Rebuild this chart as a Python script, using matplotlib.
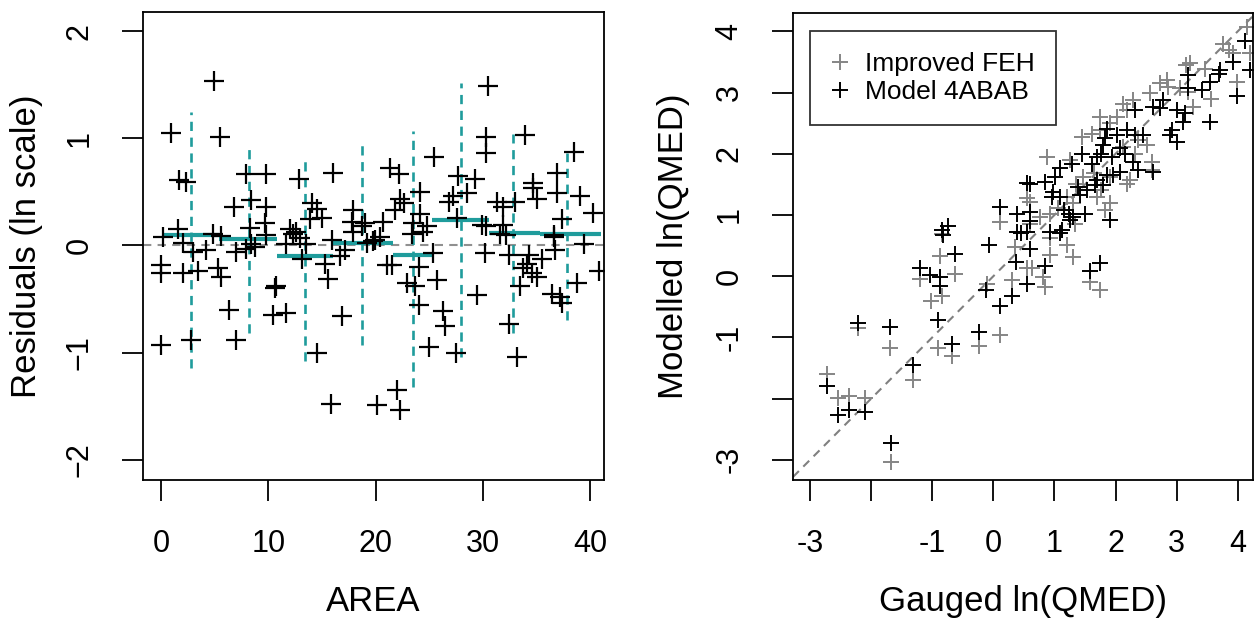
import matplotlib.pyplot as plt

plt.rcParams['font.family'] = ['Liberation Sans', 'DejaVu Sans']

# left panel: residuals against AREA
area = [0.87, 4.9, 5.45, 1.7, 2.34, 7.94, 9.75, 12.86, 16.04, 6.79, 8.35, 9.81, 14.1, 14.5, 14.95, 13.9,
        17.9, 17.76, 18.7, 1.55, 8.25, 9.66, 12.0, 12.6, 4.83, 5.6, 0.15, 9.75,
        2.03, 2.96, 4.2, 7.0, 7.94, 8.41, 8.72, 11.68, 12.3, 12.9, 13.55, 13.1, 15.9, 15.26, 16.66,
        17.13, 15.57, 17.9, 19.16, 19.78, 0.0, 0.0, 2.03, 3.42, 5.29, 5.6, 10.75, 10.6, 6.33, 10.43,
        11.68, 16.82, 0.0, 2.74, 7.0, 14.49, 15.8, 20.1,
        19.93, 23.36, 24.45, 25.39, 21.5, 21.03, 24.0, 25.7, 22.9, 23.68, 24.0, 26.26, 26.49, 25.0,
        27.5, 21.96, 22.27, 29.5, 30.2, 32.4, 32.4, 33.2, 33.5, 33.74, 34.1, 34.27, 34.6, 35.05, 35.5,
        36.45, 37.2, 37.4, 36.76, 36.6, 38.79, 39.4, 40.8, 31.6, 32.2,
        30.5, 30.3, 30.3, 33.95, 38.47, 25.45, 21.34, 22.2, 24.15, 27.72, 29.3, 22.27, 22.6, 21.8,
        19.0, 20.7, 20.4, 24.15, 23.5, 24.77, 26.8, 27.26, 28.5, 27.57, 29.9, 30.3, 31.3, 31.9, 33.0,
        34.7, 34.7, 35.05, 36.9, 36.9, 39.1, 40.3, 37.4, 36.6, 31.9]
resid = [1.05, 1.54, 1.01, 0.61, 0.59, 0.67, 0.67, 0.62, 0.68, 0.36, 0.42, 0.36, 0.40, 0.34, 0.26, 0.25,
         0.33, 0.22, 0.18, 0.15, 0.16, 0.21, 0.15, 0.13, 0.11, 0.09, 0.08, 0.10,
         0.02, -0.06, -0.04, -0.06, -0.03, 0.01, -0.01, 0.01, 0.11, 0.07, 0.01, -0.13, 0.05, -0.17, -0.10,
         -0.04, -0.31, 0.13, 0.02, 0.04, -0.18, -0.26, -0.26, -0.24, -0.21, -0.29, -0.38, -0.40, -0.60, -0.65,
         -0.63, -0.66, -0.93, -0.88, -0.88, -1.00, -1.48, -1.49,
         0.05, 0.11, 0.13, -0.07, -0.18, -0.18, -0.20, -0.32, -0.35, -0.38, -0.56, -0.61, -0.75, -0.95,
         -1.00, -1.35, -1.54, -0.46, -0.07, -0.09, -0.73, -1.04, -0.38, -0.21, -0.17, -0.09, -0.26, -0.29, -0.13,
         -0.45, -0.48, -0.54, -0.04, 0.08, -0.35, 0.01, -0.24, 0.11, 0.10,
         1.49, 1.01, 0.86, 1.03, 0.87, 0.83, 0.72, 0.67, 0.50, 0.65, 0.62, 0.43, 0.40, 0.33,
         0.21, 0.22, 0.08, 0.29, 0.21, 0.18, 0.41, 0.46, 0.49, 0.26, 0.19, 0.18, 0.41, 0.36, 0.41,
         0.58, 0.54, 0.43, 0.68, 0.49, 0.46, 0.30, 0.25, 0.10, 0.19]

# AREA bins: edges, centre, mean residual and the extent of the dashed bar
bin_lo = [0.3, 5.4, 10.8, 16.0, 21.6, 25.3, 30.6, 35.3]
bin_hi = [5.4, 10.8, 16.0, 21.6, 25.3, 30.6, 35.3, 41.0]
bin_mid = [2.8, 8.2, 13.4, 18.7, 23.5, 28.0, 32.8, 37.85]
bin_mean = [0.10, 0.06, -0.10, 0.02, -0.09, 0.24, 0.12, 0.11]
bin_low = [-1.14, -0.82, -1.08, -0.93, -1.32, -1.04, -0.82, -0.70]
bin_high = [1.25, 0.92, 0.82, 0.94, 1.07, 1.52, 1.04, 0.86]

# right panel: gauged vs modelled ln(QMED)
feh_x = [-0.87, -0.63, -1.2, -1.02, -0.84, 0.36, 0.30, -0.11, -2.21, -1.70, -0.90, -0.68, -0.23, 0.11,
         -1.31, -2.73, -2.54, -2.36, -2.10, -1.67, 0.55, 1.75, 1.58, 0.85, 0.82, 0.63, 0.93, 1.30, 1.20,
         0.93, 4.15, 4.20, 3.76, 3.85, 3.98, 3.57, 3.47, 3.22, 2.84, 2.73, 3.06, 3.19, 3.27, 2.56, 2.29,
         2.13, 1.75, 1.91, 1.45, 1.61, 2.37, 2.51, 2.13, 0.87, 2.59, 2.24, 1.64, 1.36, 1.20, 1.77, 1.91,
         1.83, 1.06, 0.93, 0.60, 0.76, 1.31, 0.55, 0.11, -0.84,
         1.75, 2.02, 1.26, 2.59, 1.91, 2.18, 1.47, 1.69, 1.34, 2.32, 2.86, 3.16, 3.93, 2.18, 0.60]
feh_y = [0.33, 0.03, -0.04, -0.40, -0.32, 0.48, -0.07, -0.12, -0.85, -1.18, -1.17, -1.31, -1.14, -0.96,
         -1.69, -1.59, -1.99, -1.96, -1.99, -3.03, 0.13, -0.22, -0.09, -0.18, -0.01, 0.13, 0.34, 0.31, 0.51,
         0.62, 4.07, 3.64, 3.80, 3.69, 3.17, 2.90, 3.39, 3.48, 3.20, 3.15, 3.07, 3.01, 2.77, 2.99, 2.88,
         2.82, 2.60, 2.50, 2.28, 2.33, 2.22, 2.14, 2.11, 1.95, 1.87, 1.57, 1.68, 1.51, 1.30, 1.41, 1.19,
         1.08, 1.11, 1.02, 1.21, 0.97, 1.19, 1.28, 0.89, 0.69,
         2.39, 2.60, 1.90, 1.73, 1.62, 1.51, 1.62, 1.30, 0.86, 2.00, 3.09, 3.45, 3.64, 2.71, 0.86]
mod_x = [-0.82, -0.63, -0.07, 0.45, -1.2, -1.04, -0.87, -0.87, 0.37, -0.12, 0.11, 0.30, 0.55, -0.90,
         -0.68, -0.23, -2.21, -1.70, -1.31, -2.73, -2.54, -2.36, -2.10, -1.67, 1.75, 1.58, 0.85, 0.60,
         1.09, 0.93, 4.12, 4.20, 3.98, 3.93, 3.71, 3.70, 3.55, 3.55, 3.41, 3.19, 3.19, 3.14, 3.11, 3.00,
         2.92, 3.00, 2.89, 2.78, 2.73, 2.62, 2.32, 2.45, 2.32, 2.18, 2.02, 2.07, 1.86, 1.83, 1.80, 1.77,
         1.69, 1.94, 2.16, 2.29, 2.37, 2.62, 2.07, 1.96, 1.86, 1.69, 1.61, 1.45, 1.28, 1.09, 1.01, 0.85,
         0.60, 1.80, 1.53, 1.39, 1.42, 1.66, 0.98, 0.96, 1.09, 1.15, 1.23, 1.31, 1.50, 1.26, 0.60, 0.60,
         1.91, 1.12, 0.55, 0.55, 0.11, 0.38, -0.74, -0.84, 0.38]
mod_y = [0.67, 0.37, 0.51, 0.71, 0.13, 0.02, -0.01, -0.16, 0.23, -0.22, -0.49, -0.33, -0.12, -0.72,
         -1.10, -0.91, -0.76, -0.83, -1.45, -1.80, -2.27, -2.19, -2.22, -2.73, 0.21, 0.09, 0.16, 0.44,
         0.70, 0.72, 3.84, 3.37, 2.94, 3.50, 3.37, 3.30, 3.17, 2.52, 3.04, 3.28, 3.08, 2.66, 2.52, 2.71,
         2.39, 2.19, 2.30, 2.88, 2.74, 2.77, 2.71, 2.30, 2.30, 2.39, 2.30, 2.09, 2.41, 2.25, 2.14, 2.00,
         1.95, 1.95, 2.00, 1.87, 1.73, 1.70, 1.70, 1.65, 1.65, 1.57, 1.84, 2.00, 1.84, 1.76, 1.62, 1.54,
         1.51, 1.49, 1.41, 1.46, 1.32, 1.49, 1.38, 1.30, 1.30, 1.08, 1.02, 0.97, 1.02, 0.92, 1.05, 0.90,
         0.92, 0.75, 0.72, 1.52, 1.13, 1.02, 0.82, 0.75, 0.73]

teal = '#1f9c9c'

fig = plt.figure(figsize=(12.56, 6.19), dpi=100)
ax1 = fig.add_axes([143/1256, 139/619, 461/1256, 468/619])
ax2 = fig.add_axes([793/1256, 139/619, 460/1256, 467/619])

# ----- left
ax1.axhline(0, color='#909090', lw=1.5, ls=(0, (4, 3)), zorder=1)
for lo, hi, mid, m, a, b in zip(bin_lo, bin_hi, bin_mid, bin_mean, bin_low, bin_high):
    ax1.plot([lo, hi], [m, m], color=teal, lw=3, solid_capstyle='butt', zorder=2)
    ax1.plot([mid, mid], [a, b], color=teal, lw=1.9, ls=(0, (3.5, 2.5)), zorder=2)
ax1.plot(area, resid, ls='none', marker='+', ms=14, mew=1.6, color='black', zorder=3)
ax1.set_xlim(-1.7, 41.3)
ax1.set_ylim(-2.19, 2.18)
ax1.set_xticks([0, 10, 20, 30, 40])
ax1.set_yticks([-2, -1, 0, 1, 2])
ax1.set_xlabel('AREA', fontsize=25)
ax1.set_ylabel('Residuals (ln scale)', fontsize=25)
ax1.xaxis.set_label_coords(0.5, -0.224)
ax1.yaxis.set_label_coords(-0.217, 0.5)

# ----- right
ax2.axline((0, 0), slope=1, color='#808080', lw=1.5, ls=(0, (4, 3)), zorder=1)
ax2.plot(feh_x, feh_y, ls='none', marker='+', ms=11, mew=1.4, color='#858585', zorder=2,
         label='Improved FEH')
ax2.plot(mod_x, mod_y, ls='none', marker='+', ms=11, mew=1.4, color='black', zorder=3,
         label='Model 4ABAB')
ax2.set_xlim(-3.28, 4.25)
ax2.set_ylim(-3.33, 4.30)
ax2.set_xticks([-3, -2, -1, 0, 1, 2, 3, 4])
ax2.set_xticklabels(['-3', '', '-1', '0', '1', '2', '3', '4'])
ax2.set_yticks([-3, -2, -1, 0, 1, 2, 3, 4])
ax2.set_yticklabels(['-3', '', '-1', '0', '1', '2', '3', '4'])
ax2.set_xlabel('Gauged ln(QMED)', fontsize=25)
ax2.set_ylabel('Modelled ln(QMED)', fontsize=25)
ax2.xaxis.set_label_coords(0.5, -0.224)
ax2.yaxis.set_label_coords(-0.224, 0.5)
leg = ax2.legend(loc='upper left', bbox_to_anchor=(0.037, 0.961), fontsize=19, frameon=True,
                 fancybox=False, edgecolor='black', borderpad=0.8, handlelength=0.7,
                 handletextpad=0.6, labelspacing=0.15, borderaxespad=0)
leg.get_frame().set_linewidth(1.3)

for ax in (ax1, ax2):
    for s in ax.spines.values():
        s.set_linewidth(1.3)
    ax.tick_params(direction='out', length=15, width=1.3, labelsize=22, pad=20)
    for lab in ax.get_yticklabels():
        lab.set_rotation(90)
        lab.set_va('center')

fig.savefig('out.png', dpi=100)
